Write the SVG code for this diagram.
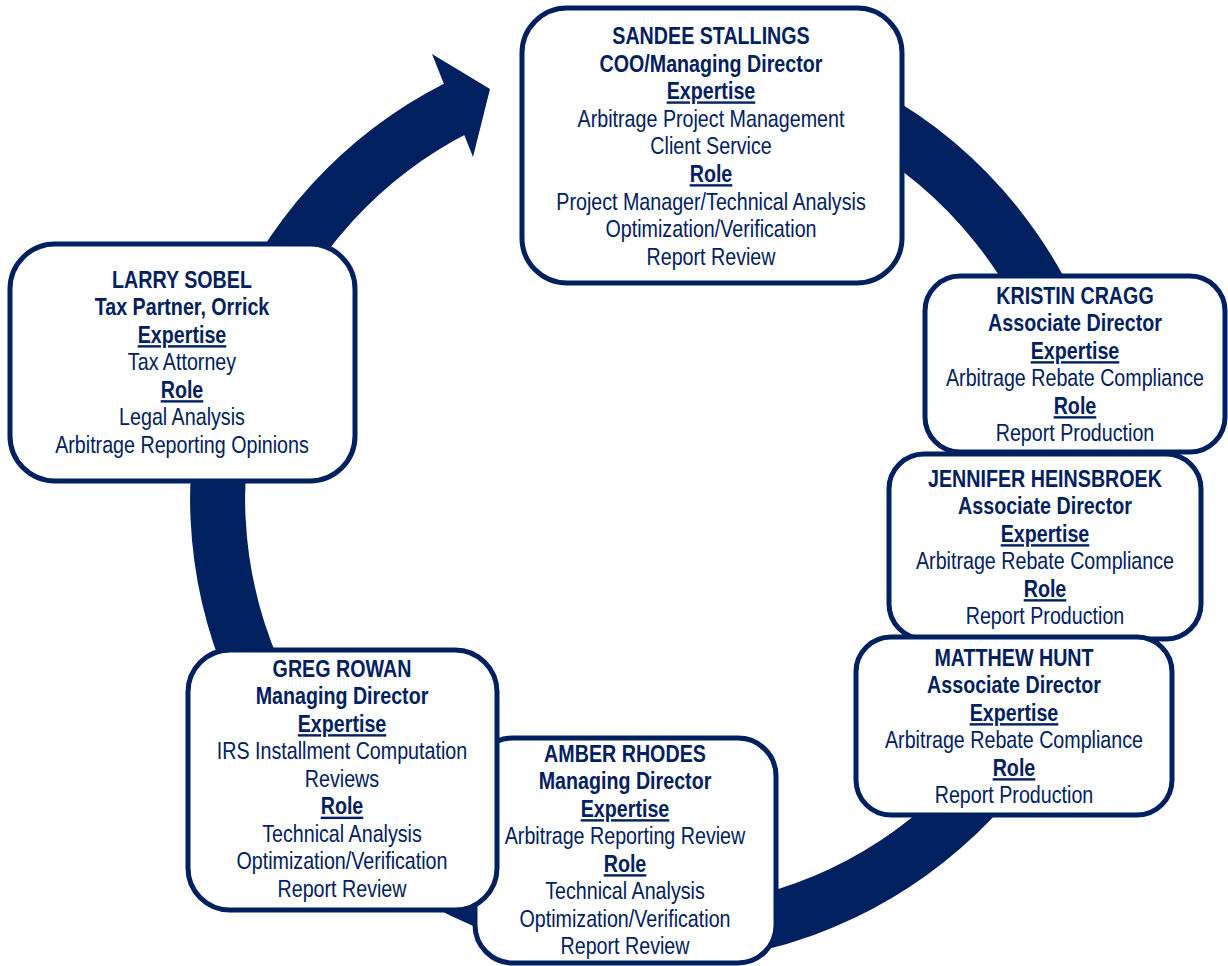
<svg xmlns="http://www.w3.org/2000/svg" width="1228" height="966" viewBox="0 0 1228 966">
<style>
.box{fill:#ffffff;stroke:#002060;stroke-width:5}
text{font-family:"Liberation Sans",Arial,sans-serif;font-size:24px;fill:#002060;text-anchor:middle}
.b{font-weight:bold}
.u{font-weight:bold;text-decoration:underline}
</style>
<rect width="1228" height="966" fill="#ffffff"/>
<g id="connectors">
<path d="M 541.8 75.4 A 437.5 437.5 0 0 1 804.6 909.1 A 437.5 437.5 0 0 1 457.7 107.5" fill="none" stroke="#002060" stroke-width="55"/>
<polygon points="432,54 490,89 473,157" fill="#002060"/>
</g>
<g id="sandee">
<rect class="box" x="522" y="8" width="380" height="275" rx="45"/>
<g transform="matrix(0.82 0 0 1 127.98 0)">
<text x="711" y="44" class="b">SANDEE STALLINGS</text>
<text x="711" y="71.6" class="b">COO/Managing Director</text>
<text x="711" y="99.2" class="u">Expertise</text>
<text x="711" y="126.8">Arbitrage Project Management</text>
<text x="711" y="154.4">Client Service</text>
<text x="711" y="182" class="u">Role</text>
<text x="711" y="209.6">Project Manager/Technical Analysis</text>
<text x="711" y="237.2">Optimization/Verification</text>
<text x="711" y="264.8">Report Review</text>
</g>
</g>
<g id="kristin">
<rect class="box" x="925" y="276" width="300" height="176" rx="35"/>
<g transform="matrix(0.82 0 0 1 193.5 0)">
<text x="1075" y="304" class="b">KRISTIN CRAGG</text>
<text x="1075" y="331.5" class="b">Associate Director</text>
<text x="1075" y="359" class="u">Expertise</text>
<text x="1075" y="386.5">Arbitrage Rebate Compliance</text>
<text x="1075" y="414" class="u">Role</text>
<text x="1075" y="441.5">Report Production</text>
</g>
</g>
<g id="jennifer">
<rect class="box" x="889" y="454" width="312" height="185" rx="35"/>
<g transform="matrix(0.82 0 0 1 188.1 0)">
<text x="1045" y="487" class="b">JENNIFER HEINSBROEK</text>
<text x="1045" y="514.5" class="b">Associate Director</text>
<text x="1045" y="542" class="u">Expertise</text>
<text x="1045" y="569.5">Arbitrage Rebate Compliance</text>
<text x="1045" y="597" class="u">Role</text>
<text x="1045" y="624.5">Report Production</text>
</g>
</g>
<g id="matthew">
<rect class="box" x="856" y="637" width="316" height="178" rx="35"/>
<g transform="matrix(0.82 0 0 1 182.52 0)">
<text x="1014" y="666" class="b">MATTHEW HUNT</text>
<text x="1014" y="693.5" class="b">Associate Director</text>
<text x="1014" y="721" class="u">Expertise</text>
<text x="1014" y="748.5">Arbitrage Rebate Compliance</text>
<text x="1014" y="776" class="u">Role</text>
<text x="1014" y="803.5">Report Production</text>
</g>
</g>
<g id="amber">
<rect class="box" x="475" y="738" width="301" height="225" rx="38"/>
<g transform="matrix(0.82 0 0 1 112.5 0)">
<text x="625" y="762" class="b">AMBER RHODES</text>
<text x="625" y="789.5" class="b">Managing Director</text>
<text x="625" y="817" class="u">Expertise</text>
<text x="625" y="844.5">Arbitrage Reporting Review</text>
<text x="625" y="872" class="u">Role</text>
<text x="625" y="899.5">Technical Analysis</text>
<text x="625" y="927">Optimization/Verification</text>
<text x="625" y="954.5">Report Review</text>
</g>
</g>
<g id="greg">
<rect class="box" x="188" y="650" width="309" height="260" rx="42"/>
<g transform="matrix(0.82 0 0 1 61.56 0)">
<text x="342" y="677" class="b">GREG ROWAN</text>
<text x="342" y="704.5" class="b">Managing Director</text>
<text x="342" y="732" class="u">Expertise</text>
<text x="342" y="759.5">IRS Installment Computation</text>
<text x="342" y="787">Reviews</text>
<text x="342" y="814.5" class="u">Role</text>
<text x="342" y="842">Technical Analysis</text>
<text x="342" y="869.5">Optimization/Verification</text>
<text x="342" y="897">Report Review</text>
</g>
</g>
<g id="larry">
<rect class="box" x="10" y="244" width="345" height="237" rx="45"/>
<g transform="matrix(0.82 0 0 1 32.76 0)">
<text x="182" y="288" class="b">LARRY SOBEL</text>
<text x="182" y="315.5" class="b">Tax Partner, Orrick</text>
<text x="182" y="343" class="u">Expertise</text>
<text x="182" y="370.5">Tax Attorney</text>
<text x="182" y="398" class="u">Role</text>
<text x="182" y="425.5">Legal Analysis</text>
<text x="182" y="453">Arbitrage Reporting Opinions</text>
</g>
</g>
</svg>
